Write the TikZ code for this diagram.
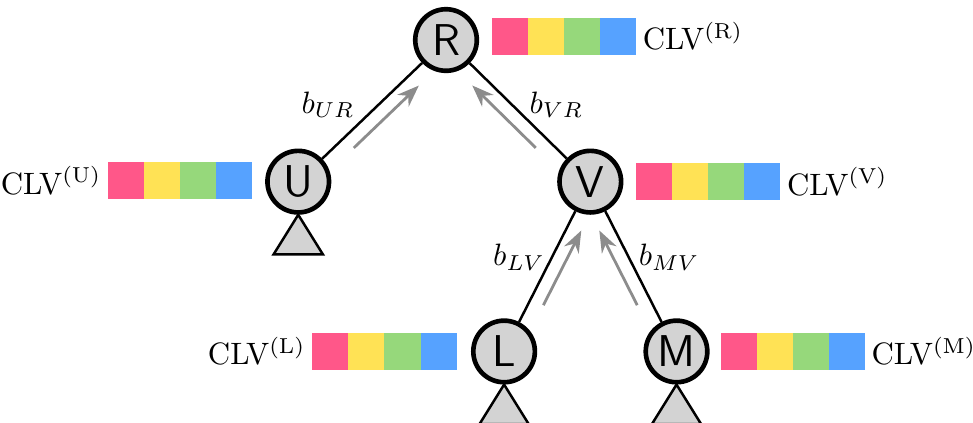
\documentclass[tikz,border=0pt]{standalone}
\usepackage{amsmath}
\usepackage{tikz}
\usetikzlibrary{positioning, calc, arrows.meta}

\definecolor{clvpink}{RGB}{255,87,137}
\definecolor{clvyellow}{RGB}{255,226,85}
\definecolor{clvgreen}{RGB}{150,216,123}
\definecolor{clvblue}{RGB}{86,162,255}
\definecolor{vertfill}{RGB}{211,211,211}
\definecolor{flowgray}{RGB}{140,140,140}

\begin{document}
\begin{tikzpicture}[
        >=Stealth,
        on grid,
        vert/.style={draw, circle, line width=1.5pt, fill=vertfill, minimum size=0.7cm, inner sep=0pt, font=\sffamily\Large},
        branch/.style={draw, line width=0.8pt},
        flow/.style={->, flowgray, line width=0.9pt},
        subtree/.style={draw, line width=0.8pt, fill=vertfill},
        cell/.style={minimum width=0.41cm, minimum height=0.42cm, inner sep=0pt, outer sep=0pt},
        clv/.style={inner sep=2pt}
    ]
        \useasboundingbox (-5.07,-4.35) rectangle (5.99,0.455);

        \node[vert] (R) at (0,0) {R};
\node[vert, below left=1.61cm and 1.68cm of R] (U) {U};
        \node[vert, below right=1.61cm and 1.64cm of R] (V) {V};
        \node[vert, below left=1.93cm and 0.98cm of V] (L) {L};
        \node[vert, below right=1.93cm and 0.98cm of V] (M) {M};

        % branches with their lengths
\draw[branch] (U) -- node[left, xshift=-2pt, yshift=2pt] {$b_{UR}$} (R);
        \draw[branch] (V) -- node[right, xshift=0pt, yshift=2pt] {$b_{VR}$} (R);
        \draw[branch] (L) -- node[left, xshift=3pt, yshift=3pt] {$b_{LV}$} (V);
        \draw[branch] (M) -- node[right, xshift=-2pt, yshift=3pt] {$b_{MV}$} (V);

        % messages sent up the tree
        \foreach \a/\b/\ang in {U/R/-90, V/R/90, L/V/-90, M/V/90}
            \draw[flow] ($(\a)!0.31!(\b)!0.16cm!\ang:(\b)$) -- ($(\a)!0.75!(\b)!0.16cm!\ang:(\b)$);

        % subtrees hanging below the leaves
        \foreach \v in {U, L, M}
            \draw[subtree] (\v.south) -- ++(-0.28,-0.45) -- ++(0.56,0) -- cycle;

        % conditional likelihood vectors
        \foreach \v/\dx/\dy in {R/0.52/0.04, V/0.52/0.0, M/0.5/0.0, U/-2.16/0.01, L/-2.18/0.0}
            \foreach \col [count=\i from 0] in {clvpink,clvyellow,clvgreen,clvblue}
                \node[cell, fill=\col, anchor=west] (\v-\i) at ($(\v)+(\dx+\i*0.41,\dy)$) {};

        \node[clv, right] (clvR) at (R-3.east) {CLV$^{(\mathrm{R})}$};
        \node[clv, right] (clvV) at (V-3.east) {CLV$^{(\mathrm{V})}$};
        \node[clv, right] (clvM) at (M-3.east) {CLV$^{(\mathrm{M})}$};
        \node[clv, left] (clvU) at (U-0.west) {CLV$^{(\mathrm{U})}$};
        \node[clv, left] (clvL) at (L-0.west) {CLV$^{(\mathrm{L})}$};
\end{tikzpicture}
\end{document}
